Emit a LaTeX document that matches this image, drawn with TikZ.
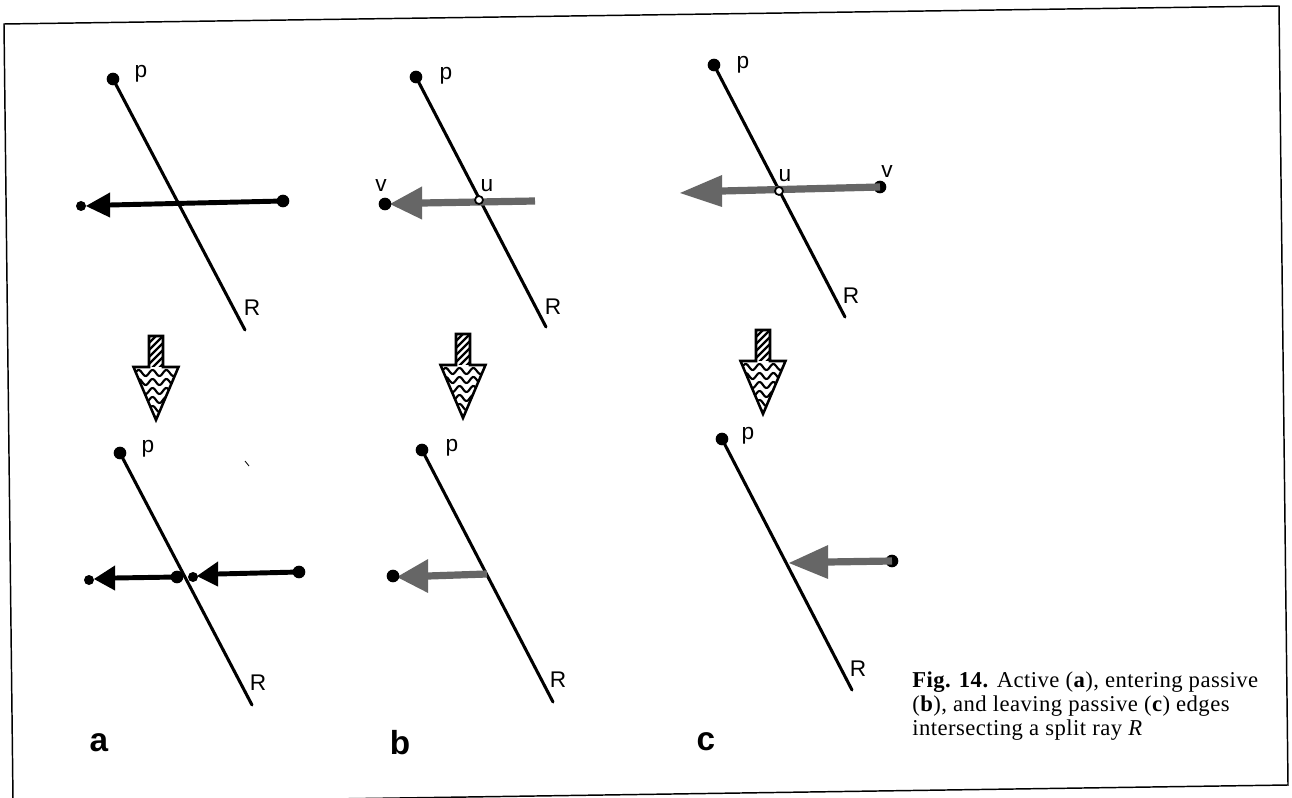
\documentclass[tikz,border=0pt]{standalone}
\usepackage{fontspec}
\setmainfont{Liberation Serif}
\newfontfamily\capfont{Liberation Serif}[LetterSpace=2.0]
\newfontfamily\lblfont{Liberation Sans}
\definecolor{pgray}{gray}{0.4}
\newcommand{\ahead}[4]{\fill[#4] ([yshift=#3]#1) -- (#2) -- ([yshift=-#3]#1) -- cycle;}
\newcommand{\transarrow}[2]{%
  \begin{scope}[shift={(#1,#2)}]
    \begin{scope}
      \clip (-7,0) rectangle (7,31);
      \foreach \i in {-14,-7,...,49} \draw[line width=1.7pt] (-8,\i+8) -- (8,\i-8);
    \end{scope}
    \begin{scope}
      \clip (-22.5,31) -- (22.5,31) -- (0,84) -- cycle;
      \foreach \j in {37,46,...,82} \draw[line width=1.6pt] plot[domain=-25:25,samples=51,smooth] (\x,{\j+3*sin(\x*26)});
    \end{scope}
    \draw[tarrow] (-7,0) -- (7,0) -- (7,31) -- (22.5,31) -- (0,84) -- (-22.5,31) -- (-7,31) -- cycle;
  \end{scope}}
\begin{document}
\begin{tikzpicture}[x=0.75pt,y=-0.75pt,
  ray/.style={line width=2.3pt, line cap=round},
  bigdot/.style={circle, fill=black, inner sep=0pt, minimum size=9.5pt},
  smalldot/.style={circle, fill=black, inner sep=0pt, minimum size=7.5pt},
  hollowdot/.style={circle, draw=black, line width=1.3pt, fill=white, inner sep=0pt, minimum size=6pt},
  lbl/.style={font=\lblfont\fontsize{17}{19}\selectfont, inner sep=0pt},
  panel/.style={font=\lblfont\bfseries\fontsize{25}{30}\selectfont, inner sep=0pt},
  edgeA/.style={line width=3.7pt},
  edgeP/.style={line width=5.4pt, draw=pgray},
  tarrow/.style={line width=1.9pt, line join=miter},
  frame/.style={line width=1.1pt}]
\useasboundingbox[fill=white] (0,0) rectangle (1292,798);

% frame
\draw[frame] (13,800) -- (4,24) -- (1279,6) -- (1288,785) -- (330,799);

% ---------- top a
\node[bigdot] (ap) at (113,79) {};
\node[lbl] at (141,74) {p};
\coordinate (aR) at (245,330);
\node[lbl] at (252,308) {R};
\draw[ray] (ap.center) -- (aR);
\node[bigdot] (av) at (283,201) {};
\node[smalldot] (aw) at (81,206) {};
\coordinate (atip) at (86,206);
\coordinate (abase) at (110,205);
\draw[edgeA] (av.center) -- (abase);
\ahead{abase}{atip}{9.4pt}{black}

% ---------- top b
\node[bigdot] (bp) at (416,77) {};
\node[lbl] at (446,76) {p};
\coordinate (bR) at (546,327);
\node[lbl] at (553,307) {R};
\draw[ray] (bp.center) -- (bR);
\coordinate (bend) at (535,201);
\coordinate (bbase) at (422,203);
\coordinate (btip) at (390,204);
\draw[edgeP] (bend) -- (bbase);
\ahead{bbase}{btip}{12.4pt}{pgray}
\node[bigdot] (bv) at (385,204) {};
\node[lbl] at (381,186) {v};
\node[hollowdot] (bu) at (479,200) {};
\node[lbl] at (487,186) {u};

% ---------- top c
\node[bigdot] (cp) at (714,65) {};
\node[lbl] at (743,65) {p};
\coordinate (cR) at (845,317);
\node[lbl] at (851,296) {R};
\draw[ray] (cp.center) -- (cR);
\node[bigdot] (cv) at (880,187) {};
\node[lbl] at (887,172) {v};
\coordinate (cbase) at (722,191);
\coordinate (ctip) at (680,193);
\draw[edgeP] (cv.center) -- (cbase);
\ahead{cbase}{ctip}{12pt}{pgray}
\node[hollowdot] (cu) at (779,191) {};
\node[lbl] at (785,176) {u};

% ---------- transition arrows
\transarrow{156}{336}
\transarrow{463}{334}
\transarrow{763}{330}

% ---------- bottom a
\node[bigdot] (dp) at (120,453) {};
\node[lbl] at (148,449) {p};
\coordinate (dR) at (252,705);
\node[lbl] at (258,683) {R};
\draw[ray] (dp.center) -- (dR);
\node[smalldot] (dw) at (89,580) {};
\coordinate (dtip) at (94,579);
\coordinate (dbase) at (115,578);
\node[bigdot] (dm) at (177,577) {};
\draw[edgeA] (dm.center) -- (dbase);
\ahead{dbase}{dtip}{9.4pt}{black}
\node[smalldot] (dn) at (193,577) {};
\coordinate (dtip2) at (197,576);
\coordinate (dbase2) at (218,574);
\node[bigdot] (dv) at (299,572) {};
\draw[edgeA] (dv.center) -- (dbase2);
\ahead{dbase2}{dtip2}{9.4pt}{black}
\draw[line width=0.6pt] (245,461) -- (249,466);

% ---------- bottom b
\node[bigdot] (ep) at (422,450) {};
\node[lbl] at (452,448) {p};
\coordinate (eR) at (553,702);
\node[lbl] at (558,680) {R};
\draw[ray] (ep.center) -- (eR);
\coordinate (eu) at (487,574);
\coordinate (ebase) at (428,576);
\coordinate (etip) at (397,577);
\draw[edgeP] (eu) -- (ebase);
\ahead{ebase}{etip}{12.7pt}{pgray}
\node[bigdot] (ev) at (393,576) {};

% ---------- bottom c
\node[bigdot] (fp) at (722,439) {};
\node[lbl] at (748,436) {p};
\coordinate (fR) at (852,690);
\node[lbl] at (858,669) {R};
\draw[ray] (fp.center) -- (fR);
\node[bigdot] (fv) at (892,561) {};
\coordinate (fbase) at (828,562);
\coordinate (ftip) at (789,563);
\draw[edgeP] (fv.center) -- (fbase);
\ahead{fbase}{ftip}{12.7pt}{pgray}

% ---------- panel letters
\node[panel] (la) at (99,743) {a};
\node[panel] (lb) at (400,743) {b};
\node[panel] (lc) at (706,742) {c};

% ---------- caption
\node[anchor=north west, align=left, inner sep=0pt, font=\capfont\fontsize{17}{18}\selectfont] (cap) at (912,672)
  {\textbf{Fig. 14.} Active (\textbf{a}), entering passive\\
   (\textbf{b}), and leaving passive (\textbf{c}) edges\\
   intersecting a split ray \textit{R}};
\end{tikzpicture}
\end{document}
